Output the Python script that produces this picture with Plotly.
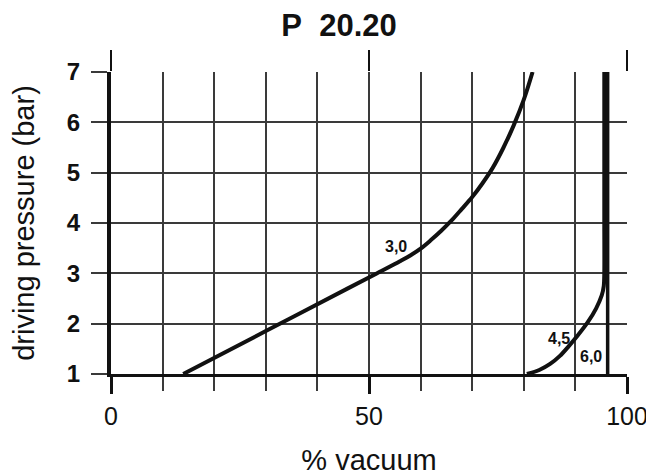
import plotly.graph_objects as go

# ---- data ----
curve30_x = [14, 30, 46, 52, 56, 58, 60, 62, 64, 66, 68, 70, 72, 74, 76, 78, 80, 81.7]
curve30_y = [1, 1.853, 2.706, 3.025, 3.24, 3.355, 3.49, 3.66, 3.845, 4.05, 4.28, 4.515,
             4.79, 5.10, 5.485, 5.93, 6.45, 7.0]

curve45_x = [80.6, 83.0, 85.1, 87.0, 88.6, 90.4, 92.4, 94.0, 95.1, 95.5, 95.6, 95.6, 95.6, 95.6]
curve45_y = [1.0, 1.08, 1.2, 1.36, 1.54, 1.76, 2.03, 2.3, 2.56, 2.75, 3.0, 4.0, 5.5, 7.0]

curve60_x = [96.25, 96.25]
curve60_y = [1.0, 7.0]

label_text = ["3,0", "4,5", "6,0"]
label_x = [55.3, 86.8, 93.0]
label_y = [3.54, 1.70, 1.34]

x_major_ticks = [0, 50, 100]
y_ticks = [1, 2, 3, 4, 5, 6, 7]

FONT = "Liberation Sans, Arial, sans-serif"
INK = "#111111"
GRID = "#3a3a3a"

# the page body adds an 8px offset, so the figure is 8px smaller than the window
W, H = 646, 468

fig = go.Figure()
fig.add_trace(go.Scatter(x=curve30_x, y=curve30_y, mode="lines",
                         line=dict(color=INK, width=4, shape="spline", smoothing=1.0),
                         hoverinfo="skip", showlegend=False))
fig.add_trace(go.Scatter(x=curve45_x, y=curve45_y, mode="lines",
                         line=dict(color=INK, width=4, shape="spline", smoothing=0.8),
                         hoverinfo="skip", showlegend=False))
fig.add_trace(go.Scatter(x=curve60_x, y=curve60_y, mode="lines", xaxis="x2",
                         line=dict(color=INK, width=3.5),
                         hoverinfo="skip", showlegend=False))

for t, xx, yy in zip(label_text, label_x, label_y):
    fig.add_annotation(x=xx, y=yy, text=t, showarrow=False,
                       font=dict(family=FONT, size=16, color=INK, weight="bold"))

fig.update_layout(
    width=W, height=H,
    margin=dict(l=103, r=27, t=64, b=102, autoexpand=False),
    paper_bgcolor="white", plot_bgcolor="white",
    title=dict(text="P\u00a0\u00a020.20", x=331 / W, xanchor="center", y=1 - 17 / H, yanchor="middle",
               font=dict(family=FONT, size=31, color=INK, weight="bold")),
    xaxis=dict(range=[0, 100], tickvals=x_major_ticks, ticks="outside", ticklen=17, tickwidth=3,
               tickcolor=INK, showline=True, linecolor=INK, linewidth=3, automargin=False,
               showgrid=True, gridcolor=GRID, gridwidth=1.5, zeroline=False,
               minor=dict(dtick=10, ticks="outside", ticklen=14, tickwidth=1.5, tickcolor=GRID,
                          showgrid=True, gridcolor=GRID, gridwidth=1.5),
               tickfont=dict(family=FONT, size=25, color=INK), ticklabelstandoff=1,
               title=dict(text="% vacuum", font=dict(family=FONT, size=29, color=INK), standoff=25)),
    xaxis2=dict(range=[0, 100], overlaying="x", side="top", tickvals=x_major_ticks,
                ticks="outside", ticklen=21, tickwidth=2, tickcolor=INK, automargin=False,
                showticklabels=False, showgrid=False, zeroline=False, showline=False),
    yaxis=dict(range=[1, 7], tickvals=y_ticks, ticks="outside", ticklen=16, tickwidth=1.5,
               tickcolor=GRID, showline=True, linecolor=INK, linewidth=4, automargin=False,
               showgrid=True, gridcolor=GRID, gridwidth=1.5, zeroline=False,
               tickfont=dict(family=FONT, size=24, color=INK, weight="bold"), ticklabelstandoff=6,
               title=dict(text="driving pressure (bar)", font=dict(family=FONT, size=29, color=INK),
                          standoff=32)),
)

fig.write_html("out.html")
